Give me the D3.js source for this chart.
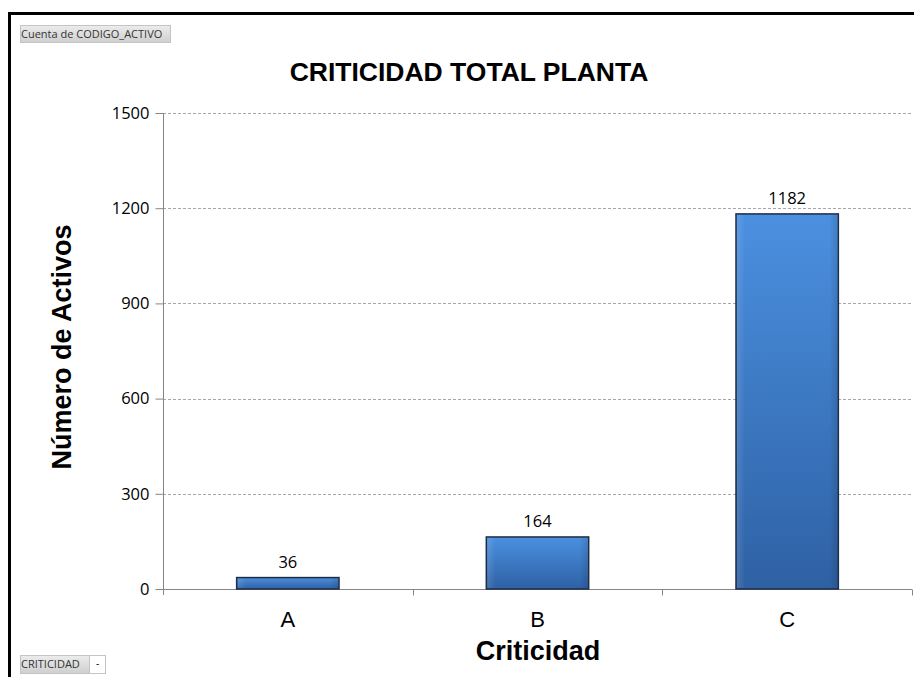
<!DOCTYPE html>
<html>
<head>
<meta charset="utf-8">
<script src="https://cdn.jsdelivr.net/npm/d3@7"></script>
<style>
  body { margin: 0; background: #fff; }
  svg { display: block; }
</style>
</head>
<body>
<div id="chart"></div>
<script>
// data
var categories = ["A", "B", "C"];
var values = [36, 164, 1182];
var yTicks = [0, 300, 600, 900, 1200, 1500];

var width = 914, height = 677;
var plot = { left: 163, right: 912, top: 113, bottom: 589 };

var svg = d3.select("#chart").append("svg")
    .attr("width", width)
    .attr("height", height);

var defs = svg.append("defs");
var grad = defs.append("linearGradient")
    .attr("id", "barGrad")
    .attr("x1", 0).attr("y1", 0).attr("x2", 0).attr("y2", 1);
grad.append("stop").attr("offset", "0%").attr("stop-color", "#4b90e0");
grad.append("stop").attr("offset", "100%").attr("stop-color", "#2e61a4");

var side = defs.append("linearGradient")
    .attr("id", "barSide")
    .attr("x1", 0).attr("y1", 0).attr("x2", 1).attr("y2", 0);
side.append("stop").attr("offset", "0%").attr("stop-color", "#fff").attr("stop-opacity", 0.12);
side.append("stop").attr("offset", "8%").attr("stop-color", "#fff").attr("stop-opacity", 0);
side.append("stop").attr("offset", "92%").attr("stop-color", "#000").attr("stop-opacity", 0);
side.append("stop").attr("offset", "100%").attr("stop-color", "#000").attr("stop-opacity", 0.12);

// outer frame
svg.append("path")
    .attr("d", "M9.5,677 L9.5,13.5 L914,13.5")
    .attr("fill", "none")
    .attr("stroke", "#000")
    .attr("stroke-width", 3);

var x = d3.scaleBand()
    .domain(categories)
    .range([plot.left, plot.right])
    .paddingInner(0.59)
    .paddingOuter(0.295);

var y = d3.scaleLinear()
    .domain([0, 1500])
    .range([plot.bottom, plot.top]);

// gridlines
svg.append("g")
    .selectAll("line")
    .data(yTicks.slice(1))
    .enter()
    .append("line")
    .attr("x1", plot.left)
    .attr("x2", plot.right)
    .attr("y1", function (d) { return Math.round(y(d)) + 0.5; })
    .attr("y2", function (d) { return Math.round(y(d)) + 0.5; })
    .attr("stroke", "#a6a6a6")
    .attr("stroke-dasharray", "3,2");

// y axis
var yAxis = svg.append("g")
    .attr("transform", "translate(" + (plot.left + 0.5) + ",0)")
    .call(d3.axisLeft(y).tickValues(yTicks).tickSize(8).tickPadding(6).tickFormat(d3.format("d")));
yAxis.select(".domain").attr("stroke", "#868686").attr("d", "M0," + (plot.top) + "V" + (plot.bottom + 6));
yAxis.selectAll(".tick line").attr("stroke", "#868686");
yAxis.selectAll(".tick text")
    .attr("font-family", "'Open Sans', sans-serif")
    .attr("font-size", 16.5)
    .attr("fill", "#000");

// x axis
var xAxis = svg.append("g")
    .attr("transform", "translate(0," + (plot.bottom + 0.5) + ")");
xAxis.append("line")
    .attr("x1", plot.left).attr("x2", plot.right)
    .attr("stroke", "#868686");
xAxis.selectAll("line.sep")
    .data(categories)
    .enter()
    .append("line")
    .attr("class", "sep")
    .attr("x1", function (d) { return Math.round(x(d) + x.bandwidth() / 2 + x.step() / 2) + 0.5; })
    .attr("x2", function (d) { return Math.round(x(d) + x.bandwidth() / 2 + x.step() / 2) + 0.5; })
    .attr("y1", 0).attr("y2", 6)
    .attr("stroke", "#868686");
xAxis.selectAll("text")
    .data(categories)
    .enter()
    .append("text")
    .attr("x", function (d) { return x(d) + x.bandwidth() / 2; })
    .attr("y", 37)
    .attr("text-anchor", "middle")
    .attr("font-family", "Arial, 'Liberation Sans', sans-serif")
    .attr("font-size", 22)
    .text(function (d) { return d; });

// bars
var bars = svg.append("g").selectAll("g")
    .data(values)
    .enter()
    .append("g");
bars.append("rect")
    .attr("x", function (d, i) { return x(categories[i]); })
    .attr("y", function (d) { return y(d); })
    .attr("width", x.bandwidth())
    .attr("height", function (d) { return y(0) - y(d); })
    .attr("fill", "url(#barGrad)")
    .attr("stroke", "#1f2d44")
    .attr("stroke-width", 1.5);
bars.append("rect")
    .attr("x", function (d, i) { return x(categories[i]) + 1; })
    .attr("y", function (d) { return y(d) + 1; })
    .attr("width", x.bandwidth() - 2)
    .attr("height", function (d) { return Math.max(0, y(0) - y(d) - 2); })
    .attr("fill", "url(#barSide)");

// value labels
bars.append("text")
    .attr("x", function (d, i) { return x(categories[i]) + x.bandwidth() / 2; })
    .attr("y", function (d) { return y(d) - 10; })
    .attr("text-anchor", "middle")
    .attr("font-family", "'Open Sans', sans-serif")
    .attr("font-size", 16.5)
    .text(function (d) { return d; });

// titles
svg.append("text")
    .attr("x", 469).attr("y", 81)
    .attr("text-anchor", "middle")
    .attr("font-family", "Arial, 'Liberation Sans', sans-serif")
    .attr("font-weight", "bold")
    .attr("font-size", 26.5)
    .text("CRITICIDAD TOTAL PLANTA");

svg.append("text")
    .attr("transform", "translate(71,347) rotate(-90)")
    .attr("text-anchor", "middle")
    .attr("font-family", "Arial, 'Liberation Sans', sans-serif")
    .attr("font-weight", "bold")
    .attr("font-size", 27)
    .text("Número de Activos");

svg.append("text")
    .attr("x", 538).attr("y", 660)
    .attr("text-anchor", "middle")
    .attr("font-family", "Arial, 'Liberation Sans', sans-serif")
    .attr("font-weight", "bold")
    .attr("font-size", 27)
    .text("Criticidad");

// pivot field buttons
var btnGrad = defs.append("linearGradient")
    .attr("id", "btnGrad")
    .attr("x1", 0).attr("y1", 0).attr("x2", 0).attr("y2", 1);
btnGrad.append("stop").attr("offset", "0%").attr("stop-color", "#ececec");
btnGrad.append("stop").attr("offset", "100%").attr("stop-color", "#cfcfcf");

function fieldButton(bx, by, w, h, label) {
    var g = svg.append("g");
    g.append("rect")
        .attr("x", bx + 0.5).attr("y", by + 0.5)
        .attr("width", w).attr("height", h)
        .attr("fill", "url(#btnGrad)")
        .attr("stroke", "#c4c4c4");
    g.append("text")
        .attr("x", bx + 1).attr("y", by + h / 2 + 4)
        .attr("font-family", "'Open Sans', sans-serif")
        .attr("font-size", 11)
        .attr("fill", "#333")
        .text(label);
    return g;
}
fieldButton(20, 25, 150, 17, "Cuenta de CODIGO_ACTIVO");
fieldButton(20, 655, 69, 18, "CRITICIDAD");
svg.append("rect")
    .attr("x", 89.5).attr("y", 655.5)
    .attr("width", 16).attr("height", 18)
    .attr("fill", "#fff")
    .attr("stroke", "#c4c4c4");
svg.append("text")
    .attr("x", 97.5).attr("y", 667)
    .attr("text-anchor", "middle")
    .attr("font-family", "'Open Sans', sans-serif")
    .attr("font-size", 10)
    .text("-");
</script>
</body>
</html>
